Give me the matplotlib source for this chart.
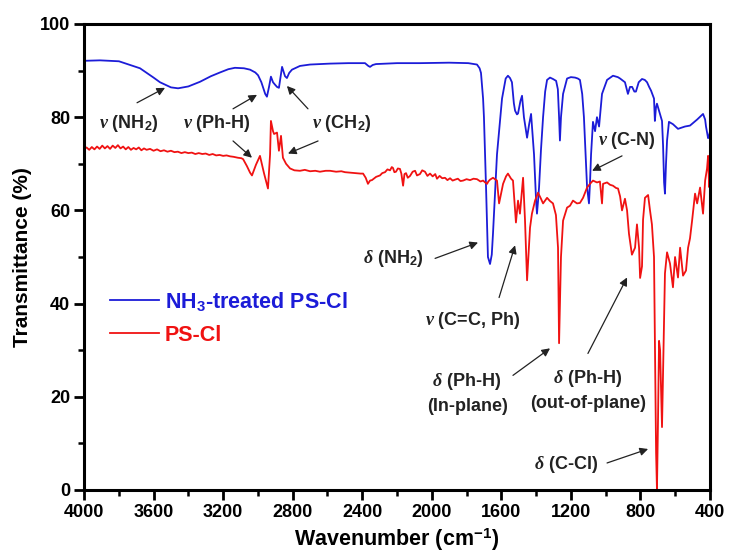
import matplotlib
matplotlib.use("Agg")
import matplotlib.pyplot as plt
from matplotlib.ticker import MultipleLocator

plt.rcParams['font.family'] = ['Liberation Sans', 'DejaVu Sans']
plt.rcParams['font.weight'] = 'bold'
plt.rcParams['mathtext.fontset'] = 'custom'
plt.rcParams['mathtext.rm'] = 'Liberation Sans:bold'
plt.rcParams['mathtext.bf'] = 'Liberation Sans:bold'
plt.rcParams['mathtext.it'] = 'Liberation Serif:italic'

# FTIR spectrum of the NH3-treated sample
nh3_wn = [4000, 3908, 3799, 3678, 3600, 3563, 3500, 3459, 3400, 3333, 3270, 3218,
          3170, 3132, 3080, 3045, 3015, 2999, 2980, 2971, 2958, 2948, 2936, 2925,
          2913, 2902, 2890, 2879, 2870, 2861, 2850, 2844, 2833, 2820, 2804, 2758,
          2700, 2585, 2480, 2384, 2365, 2355, 2340, 2321, 2200, 2068, 1900, 1790,
          1740, 1725, 1717, 1705, 1700, 1688, 1677, 1665, 1655, 1648, 1625, 1596,
          1575, 1562, 1550, 1539, 1528, 1521, 1510, 1504, 1490, 1481, 1470, 1452,
          1440, 1429, 1420, 1412, 1400, 1395, 1389, 1383, 1372, 1360, 1348, 1337,
          1320, 1303, 1285, 1275, 1268, 1263, 1257, 1245, 1222, 1200, 1176, 1160,
          1148, 1135, 1125, 1107, 1096, 1090, 1084, 1073, 1061, 1050, 1038, 1021,
          992, 958, 930, 917, 889, 872, 860, 848, 835, 826, 810, 791,
          775, 762, 750, 739, 722, 717, 711, 705, 690, 676, 670, 664,
          659, 653, 647, 636, 613, 584, 544, 515, 474, 440, 428, 423,
          411, 405, 400]
nh3_t = [92.1, 92.2, 92.0, 90.5, 88.5, 87.5, 86.4, 86.2, 86.6, 87.6, 88.8, 89.6,
         90.3, 90.6, 90.5, 90.2, 89.6, 89.0, 87.5, 86.5, 85.0, 84.4, 86.5, 88.7,
         87.5, 87.0, 86.5, 86.3, 88.5, 90.8, 89.5, 88.8, 88.4, 89.5, 90.2, 91.0,
         91.3, 91.5, 91.6, 91.6, 91.0, 90.8, 91.2, 91.4, 91.6, 91.6, 91.7, 91.6,
         91.3, 90.5, 89.5, 84.0, 80.0, 65.0, 50.0, 48.5, 50.5, 55.0, 72.0, 84.0,
         88.3, 88.9, 88.4, 87.5, 83.0, 81.4, 80.6, 80.8, 83.5, 84.6, 80.0, 75.6,
         78.5, 80.7, 76.0, 72.0, 62.0, 59.3, 62.0, 65.0, 73.0, 80.0, 85.5, 88.0,
         88.5, 88.2, 87.8, 86.0, 80.0, 75.0, 80.0, 85.0, 88.3, 88.6, 88.5, 88.3,
         88.0, 85.0, 80.0, 65.0, 61.5, 66.0, 72.0, 79.0, 77.0, 80.0, 78.0, 85.0,
         88.0, 88.9, 88.6, 88.3, 87.5, 85.0, 86.5, 86.5, 85.5, 85.5, 87.5, 88.2,
         88.0, 87.5, 86.5, 85.7, 84.0, 79.2, 82.0, 82.9, 81.0, 79.2, 74.0, 66.0,
         63.6, 70.0, 75.0, 79.0, 78.5, 77.5, 78.0, 78.2, 79.5, 80.7, 79.5, 78.0,
         75.5, 76.0, 77.0]

# FTIR spectrum of PS-Cl
pscl_wn = [4000, 3985, 3970, 3955, 3940, 3925, 3910, 3895, 3880, 3865, 3850, 3835,
           3820, 3805, 3790, 3775, 3760, 3745, 3730, 3715, 3700, 3685, 3670, 3655,
           3640, 3620, 3600, 3580, 3560, 3540, 3520, 3500, 3480, 3460, 3440, 3420,
           3400, 3380, 3360, 3340, 3320, 3300, 3280, 3260, 3240, 3220, 3200, 3180,
           3160, 3140, 3115, 3095, 3085, 3063, 3045, 3034, 3011, 2988, 2965, 2942,
           2930, 2925, 2913, 2907, 2890, 2879, 2867, 2856, 2838, 2815, 2790, 2758,
           2730, 2700, 2670, 2643, 2610, 2585, 2550, 2520, 2499, 2470, 2441, 2410,
           2395, 2380, 2367, 2355, 2344, 2320, 2298, 2285, 2269, 2255, 2240, 2230,
           2223, 2215, 2206, 2195, 2183, 2175, 2165, 2157, 2148, 2138, 2125, 2110,
           2096, 2085, 2068, 2055, 2039, 2025, 2010, 1995, 1980, 1970, 1955, 1940,
           1924, 1910, 1895, 1880, 1866, 1850, 1835, 1820, 1800, 1780, 1760, 1740,
           1720, 1705, 1690, 1682, 1675, 1665, 1648, 1625, 1613, 1602, 1590, 1573,
           1562, 1544, 1533, 1516, 1504, 1493, 1475, 1464, 1452, 1435, 1424, 1406,
           1389, 1372, 1360, 1337, 1320, 1303, 1286, 1274, 1268, 1263, 1257, 1245,
           1222, 1205, 1188, 1165, 1148, 1130, 1107, 1090, 1073, 1050, 1033, 1021,
           1015, 992, 975, 958, 940, 929, 917, 906, 889, 877, 866, 849,
           831, 820, 808, 802, 791, 785, 774, 756, 745, 734, 722, 716,
           710, 705, 699, 693, 687, 676, 670, 659, 647, 630, 613, 601,
           584, 572, 555, 538, 526, 515, 503, 486, 474, 457, 440, 428,
           417, 411, 405, 400]
pscl_t = [73.2, 73.5, 73.0, 73.6, 73.1, 73.7, 73.2, 73.9, 73.3, 73.8, 73.2, 73.9,
          73.4, 74.0, 73.3, 73.7, 73.1, 73.6, 73.0, 73.4, 73.1, 73.5, 72.9, 73.3,
          73.0, 73.2, 72.8, 73.1, 72.7, 72.9, 72.6, 72.8, 72.5, 72.6, 72.3, 72.5,
          72.3, 72.4, 72.1, 72.3, 72.1, 72.2, 71.9, 72.1, 71.8, 71.9, 71.7, 71.8,
          71.6, 71.5, 71.3, 71.2, 71.0, 69.5, 68.1, 67.5, 69.8, 71.7, 68.0, 64.7,
          72.0, 79.2, 77.0, 76.4, 76.7, 72.8, 76.0, 71.3, 70.0, 69.0, 68.6, 68.5,
          68.7, 68.4, 68.5, 68.3, 68.5, 68.5, 68.3, 68.4, 68.2, 68.1, 68.0, 67.9,
          67.9, 67.0, 65.7, 66.4, 66.5, 67.2, 67.5, 68.0, 68.2, 68.8, 68.6, 69.3,
          69.1, 68.2, 68.3, 69.0, 68.9, 67.9, 65.3, 67.8, 68.0, 67.0, 67.4, 68.3,
          68.5, 67.5, 67.8, 68.6, 68.3, 67.4, 67.9, 67.3, 67.8, 66.8, 67.4, 66.9,
          67.0, 66.5, 66.9, 66.4, 66.6, 66.8, 66.3, 66.4, 66.7, 66.5, 66.8, 66.7,
          66.2, 66.4, 65.9, 65.7, 66.2, 66.6, 67.0, 66.4, 61.5, 63.5, 65.7, 67.3,
          67.9, 66.8, 66.4, 57.4, 62.1, 59.3, 67.0, 58.0, 45.0, 56.3, 59.3, 62.1,
          63.8, 62.5, 61.5, 62.7, 62.0, 61.5, 59.0, 52.0, 31.5, 40.0, 50.0, 57.8,
          60.6, 61.0, 62.1, 61.5, 61.6, 62.7, 64.9, 65.7, 66.4, 66.0, 66.2, 61.5,
          65.7, 66.0, 65.5, 65.3, 64.8, 64.7, 63.0, 60.0, 62.5, 60.0, 55.0, 50.5,
          52.0, 57.0, 52.0, 45.5, 48.0, 58.0, 62.7, 63.3, 60.0, 57.0, 50.0, 30.0,
          8.0, 0.0, 15.0, 32.0, 30.0, 13.5, 25.0, 46.5, 51.0, 48.6, 43.5, 50.0,
          45.6, 52.0, 46.0, 47.1, 52.0, 54.0, 57.8, 63.6, 61.5, 64.9, 59.3, 66.4,
          69.0, 71.7, 65.0, 67.0]

blue = '#1c1cd8'
red = '#f01212'

fig = plt.figure(figsize=(7.31, 5.59), dpi=100)
ax = fig.add_axes([84 / 731, 1 - 490 / 559, 626 / 731, 466 / 559])

ax.plot(nh3_wn, nh3_t, color=blue, lw=1.3, label='NH$_3$-treated PS-Cl')
ax.plot(pscl_wn, pscl_t, color=red, lw=1.3, label='PS-Cl')

ax.set_xlim(4000, 400)
ax.set_ylim(0, 100)
ax.xaxis.set_major_locator(MultipleLocator(400))
ax.xaxis.set_minor_locator(MultipleLocator(200))
ax.yaxis.set_major_locator(MultipleLocator(20))
ax.yaxis.set_minor_locator(MultipleLocator(10))
ax.tick_params(which='major', direction='out', length=7, width=2, labelsize=13, pad=3)
ax.tick_params(which='minor', direction='out', length=4, width=1.8)
for sp in ax.spines.values():
    sp.set_linewidth(2.2)

ax.set_xlabel('Wavenumber (cm$^{-1}$)', fontsize=15.5, fontweight='bold', labelpad=4)
ax.set_ylabel('Transmittance (%)', fontsize=15, fontweight='bold', labelpad=6)

leg = ax.legend(loc='center left', bbox_to_anchor=(0.0415, 0.37), frameon=False,
                prop={'weight': 'bold', 'size': 15.5}, handlelength=2.3,
                handletextpad=0.25, labelspacing=0.55, borderpad=0, borderaxespad=0,
                labelcolor='linecolor')

ann_kw = dict(fontsize=13, fontweight='bold', ha='center', va='center', color='#222222')
arrow = dict(arrowstyle='-|>', color='#222222', lw=0.9, mutation_scale=12, shrinkA=0, shrinkB=0)

ax.text(3740, 78.6, r'$\nu$ (NH$_2$)', **ann_kw)
ax.annotate('', xy=(3534, 86.3), xytext=(3695, 83.1), arrowprops=arrow)

ax.text(3235, 78.6, r'$\nu$ (Ph-H)', **ann_kw)
ax.annotate('', xy=(3005, 84.8), xytext=(3143, 81.8), arrowprops=arrow)
ax.annotate('', xy=(3034, 71.3), xytext=(3143, 74.9), arrowprops=arrow)

ax.text(2516, 78.6, r'$\nu$ (CH$_2$)', **ann_kw)
ax.annotate('', xy=(2833, 86.7), xytext=(2712, 81.8), arrowprops=arrow)
ax.annotate('', xy=(2827, 72.2), xytext=(2654, 74.9), arrowprops=arrow)

ax.text(877, 74.9, r'$\nu$ (C-N)', **ann_kw)
ax.annotate('', xy=(1078, 68.5), xytext=(906, 71.7), arrowprops=arrow)

ax.text(2223, 49.7, r'$\delta$ (NH$_2$)', **ann_kw)
ax.annotate('', xy=(1734, 53.1), xytext=(1981, 49.7), arrowprops=arrow)

ax.text(1763, 36.4, r'$\nu$ (C=C, Ph)', **ann_kw)
ax.annotate('', xy=(1521, 52.5), xytext=(1613, 41.3), arrowprops=arrow)

ax.text(1797, 20.8, '$\\delta$ (Ph-H)\n(In-plane)', linespacing=1.45, **ann_kw)
ax.annotate('', xy=(1320, 30.4), xytext=(1533, 24.6), arrowprops=arrow)

ax.text(1102, 21.4, '$\\delta$ (Ph-H)\n(out-of-plane)', linespacing=1.45, **ann_kw)
ax.annotate('', xy=(877, 45.6), xytext=(1102, 29.3), arrowprops=arrow)

ax.text(1228, 5.4, r'$\delta$ (C-Cl)', **ann_kw)
ax.annotate('', xy=(756, 8.8), xytext=(992, 5.8), arrowprops=arrow)

fig.savefig('out.png', dpi=100)
